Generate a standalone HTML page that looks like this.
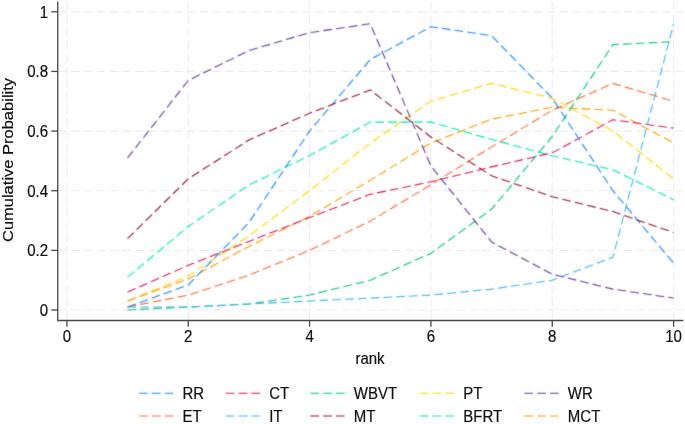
<!DOCTYPE html>
<html><head><meta charset="utf-8"><title>chart</title>
<style>
html,body{margin:0;padding:0;background:#fff;}
body{width:685px;height:424px;overflow:hidden;}
svg{display:block;will-change:transform;opacity:0.999;}
text{font-family:"Liberation Sans",sans-serif;font-size:16.5px;fill:#111;stroke:#111;stroke-width:0.2px;}
.g{stroke:#ededed;stroke-width:1.15;stroke-dasharray:8.3 4.55;fill:none;}
.ax{stroke:#484848;stroke-width:1.3;fill:none;}
.s{fill:none;stroke-width:1.08;stroke-dasharray:8.7 4.1;stroke-linejoin:round;}
</style></head><body>
<svg width="685" height="424" viewBox="0 0 685 424">
<defs><filter id="b" x="0" y="0" width="685" height="424" filterUnits="userSpaceOnUse" color-interpolation-filters="sRGB"><feConvolveMatrix order="5" kernelMatrix="0.0000 0.0002 0.0010 0.0002 0.0000 0.0002 0.0224 0.1044 0.0224 0.0002 0.0010 0.1044 0.4867 0.1044 0.0010 0.0002 0.0224 0.1044 0.0224 0.0002 0.0000 0.0002 0.0010 0.0002 0.0000" divisor="1" edgeMode="none"/></filter></defs>
<rect width="685" height="424" fill="#fff"/>

<line class="g" x1="58.3" y1="310.00" x2="683" y2="310.00"/>
<line class="g" x1="58.3" y1="250.36" x2="683" y2="250.36"/>
<line class="g" x1="58.3" y1="190.72" x2="683" y2="190.72"/>
<line class="g" x1="58.3" y1="131.08" x2="683" y2="131.08"/>
<line class="g" x1="58.3" y1="71.44" x2="683" y2="71.44"/>
<line class="g" x1="58.3" y1="11.80" x2="683" y2="11.80"/>
<line class="g" x1="66.90" y1="2.3" x2="66.90" y2="320"/>
<line class="g" x1="188.24" y1="2.3" x2="188.24" y2="320"/>
<line class="g" x1="309.58" y1="2.3" x2="309.58" y2="320"/>
<line class="g" x1="430.92" y1="2.3" x2="430.92" y2="320"/>
<line class="g" x1="552.26" y1="2.3" x2="552.26" y2="320"/>
<line class="g" x1="673.60" y1="2.3" x2="673.60" y2="320"/>
<g filter="url(#b)">
<polyline class="s" stroke="#ffd400" points="127.57,301.05 188.24,276.01 248.91,236.05 309.58,190.72 370.25,143.01 430.92,101.26 491.59,83.37 552.26,98.28 612.93,131.08 673.60,178.79"/>
<polyline class="s" stroke="#00e6b0" points="127.57,277.20 188.24,226.50 248.91,185.05 309.58,155.53 370.25,122.13 430.92,122.13 491.59,139.43 552.26,155.83 612.93,169.85 673.60,199.67"/>
<polyline class="s" stroke="#ff9900" points="127.57,301.05 188.24,278.99 248.91,246.48 309.58,216.37 370.25,180.28 430.92,143.01 491.59,119.15 552.26,107.22 612.93,110.21 673.60,143.01"/>
<polyline class="s" stroke="#d41159" points="127.57,292.11 188.24,265.27 248.91,241.41 309.58,217.56 370.25,194.30 430.92,181.77 491.59,166.86 552.26,152.85 612.93,119.75 673.60,128.10"/>
<polyline class="s" stroke="#00bf7f" points="127.57,310.00 188.24,307.02 248.91,304.04 309.58,295.09 370.25,280.18 430.92,253.34 491.59,209.21 552.26,136.45 612.93,44.60 673.60,41.62"/>
<polyline class="s" stroke="#40b0f0" points="127.57,307.02 188.24,307.02 248.91,304.04 309.58,301.05 370.25,298.07 430.92,295.09 491.59,289.13 552.26,280.18 612.93,257.22 673.60,23.73"/>
<polyline class="s" stroke="#5d3a9b" points="127.57,157.92 188.24,80.39 248.91,50.57 309.58,32.67 370.25,23.73 430.92,165.97 491.59,242.01 552.26,274.22 612.93,289.13 673.60,298.07"/>
<polyline class="s" stroke="#ff6633" points="127.57,307.02 188.24,295.09 248.91,275.11 309.58,250.36 370.25,221.14 430.92,184.76 491.59,146.88 552.26,110.21 612.93,83.37 673.60,101.26"/>
<polyline class="s" stroke="#1a85ff" points="127.57,307.02 188.24,284.95 248.91,222.63 309.58,131.08 370.25,59.51 430.92,26.71 491.59,35.66 552.26,98.28 612.93,190.72 673.60,263.18"/>
<polyline class="s" stroke="#8e1030" points="127.57,238.73 188.24,178.79 248.91,140.03 309.58,113.19 370.25,89.93 430.92,137.04 491.59,175.81 552.26,196.68 612.93,211.59 673.60,232.47"/>
</g>
<path class="ax" d="M57.75 1.5V320.5H683.3"/>
<line class="ax" x1="51.3" y1="310.00" x2="57.9" y2="310.00"/>
<text transform="translate(48.00,315.80) scale(0.91,1)" text-anchor="end">0</text>
<line class="ax" x1="51.3" y1="250.36" x2="57.9" y2="250.36"/>
<text transform="translate(48.00,256.16) scale(0.91,1)" text-anchor="end">0.2</text>
<line class="ax" x1="51.3" y1="190.72" x2="57.9" y2="190.72"/>
<text transform="translate(48.00,196.52) scale(0.91,1)" text-anchor="end">0.4</text>
<line class="ax" x1="51.3" y1="131.08" x2="57.9" y2="131.08"/>
<text transform="translate(48.00,136.88) scale(0.91,1)" text-anchor="end">0.6</text>
<line class="ax" x1="51.3" y1="71.44" x2="57.9" y2="71.44"/>
<text transform="translate(48.00,77.24) scale(0.91,1)" text-anchor="end">0.8</text>
<line class="ax" x1="51.3" y1="11.80" x2="57.9" y2="11.80"/>
<text transform="translate(48.00,17.60) scale(0.91,1)" text-anchor="end">1</text>
<line class="ax" x1="66.90" y1="320.5" x2="66.90" y2="326.7"/>
<text transform="translate(66.90,341.60) scale(0.91,1)" text-anchor="middle">0</text>
<line class="ax" x1="188.24" y1="320.5" x2="188.24" y2="326.7"/>
<text transform="translate(188.24,341.60) scale(0.91,1)" text-anchor="middle">2</text>
<line class="ax" x1="309.58" y1="320.5" x2="309.58" y2="326.7"/>
<text transform="translate(309.58,341.60) scale(0.91,1)" text-anchor="middle">4</text>
<line class="ax" x1="430.92" y1="320.5" x2="430.92" y2="326.7"/>
<text transform="translate(430.92,341.60) scale(0.91,1)" text-anchor="middle">6</text>
<line class="ax" x1="552.26" y1="320.5" x2="552.26" y2="326.7"/>
<text transform="translate(552.26,341.60) scale(0.91,1)" text-anchor="middle">8</text>
<line class="ax" x1="673.60" y1="320.5" x2="673.60" y2="326.7"/>
<text transform="translate(673.60,341.60) scale(0.91,1)" text-anchor="middle">10</text>
<text transform="translate(370.00,364.20) scale(0.91,1)" text-anchor="middle">rank</text>
<text transform="translate(12.5,160) scale(0.91,1) rotate(-90)" text-anchor="middle">Cumulative Probability</text>
<g filter="url(#b)">
<line class="s" stroke="#1a85ff" x1="139.1" y1="393.2" x2="173.5" y2="393.2"/>
<line class="s" stroke="#d41159" x1="225.8" y1="393.2" x2="260.2" y2="393.2"/>
<line class="s" stroke="#00bf7f" x1="310.4" y1="393.2" x2="344.8" y2="393.2"/>
<line class="s" stroke="#ffd400" x1="419.8" y1="393.2" x2="454.2" y2="393.2"/>
<line class="s" stroke="#5d3a9b" x1="524.4" y1="393.2" x2="558.8" y2="393.2"/>
<line class="s" stroke="#ff6633" x1="139.1" y1="416.0" x2="173.5" y2="416.0"/>
<line class="s" stroke="#40b0f0" x1="225.8" y1="416.0" x2="260.2" y2="416.0"/>
<line class="s" stroke="#8e1030" x1="310.4" y1="416.0" x2="344.8" y2="416.0"/>
<line class="s" stroke="#00e6b0" x1="419.8" y1="416.0" x2="454.2" y2="416.0"/>
<line class="s" stroke="#ff9900" x1="524.4" y1="416.0" x2="558.8" y2="416.0"/>
</g>
<text transform="translate(182.50,399.10) scale(0.91,1)" text-anchor="start">RR</text>
<text transform="translate(269.20,399.10) scale(0.91,1)" text-anchor="start">CT</text>
<text transform="translate(353.80,399.10) scale(0.91,1)" text-anchor="start">WBVT</text>
<text transform="translate(463.20,399.10) scale(0.91,1)" text-anchor="start">PT</text>
<text transform="translate(567.80,399.10) scale(0.91,1)" text-anchor="start">WR</text>
<text transform="translate(182.50,421.90) scale(0.91,1)" text-anchor="start">ET</text>
<text transform="translate(269.20,421.90) scale(0.91,1)" text-anchor="start">IT</text>
<text transform="translate(353.80,421.90) scale(0.91,1)" text-anchor="start">MT</text>
<text transform="translate(463.20,421.90) scale(0.91,1)" text-anchor="start">BFRT</text>
<text transform="translate(567.80,421.90) scale(0.91,1)" text-anchor="start">MCT</text>
</svg></body></html>
